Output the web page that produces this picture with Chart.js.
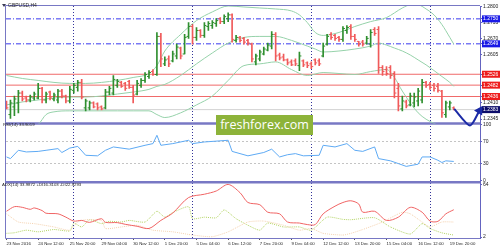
<!DOCTYPE html>
<html>
<head>
<meta charset="utf-8">
<script src="https://cdn.jsdelivr.net/npm/chart.js@4.4.1/dist/chart.umd.min.js"></script>
<style>
  html, body { margin: 0; padding: 0; background: #fff; }
  #box { position: relative; width: 500px; height: 250px; overflow: hidden; }
  #chart { position: absolute; left: 0; top: 0; }
  .txt { position: absolute; font-family: 'Liberation Sans', sans-serif; color: #1e1e1e; white-space: nowrap; line-height: 1; }
  #tri { position: absolute; left: 2px; top: 4px; width: 0; height: 0;
         border-left: 2px solid transparent; border-right: 2px solid transparent; border-top: 3px solid #3a3a55; }
  #sym { left: 8px; top: 3px; font-size: 5px; }
  #rsiTxt { left: 3px; top: 123px; font-size: 4.3px; }
  #adxTxt { left: 2px; top: 183px; font-size: 4.3px; }
  #wm { position: absolute; left: 216px; top: 115px; width: 97px; height: 20px; background: #8db33a;
        color: #fff; font-family: 'Open Sans', sans-serif; font-size: 12.5px; line-height: 20px; text-align: center; }
</style>
</head>
<body>
<div id="box">
  <canvas id="chart" width="500" height="250"></canvas>
  <div id="tri"></div>
  <div class="txt" id="sym">GBPUSD,H4</div>
  <div class="txt" id="rsiTxt">RSI(14) 33.9019</div>
  <div class="txt" id="adxTxt">ADX(14) 33.9872 +DI16.3103 -DI22.9293</div>
  <div id="wm">freshforex.com</div>
</div>
<script>
// H4 bars, 23 Nov 2016 .. 20 Dec 2016 (bar index 0..113)
const open = [1.2410,1.2363,1.2394,1.2410,1.2450,1.2430,1.2422,1.2430,1.2430,1.2469,
  1.2422,1.2454,1.2426,1.2422,1.2458,1.2438,1.2418,1.2461,1.2473,1.2493,
  1.2390,1.2390,1.2410,1.2406,1.2394,1.2390,1.2454,1.2450,1.2481,1.2493,
  1.2489,1.2497,1.2473,1.2446,1.2481,1.2501,1.2517,1.2537,1.2525,1.2679,
  1.2568,1.2588,1.2580,1.2600,1.2632,1.2608,1.2679,1.2719,1.2675,1.2703,
  1.2683,1.2719,1.2723,1.2731,1.2751,1.2739,1.2751,1.2766,1.2663,1.2675,
  1.2671,1.2663,1.2648,1.2576,1.2588,1.2608,1.2624,1.2640,1.2687,1.2604,
  1.2596,1.2584,1.2576,1.2580,1.2561,1.2580,1.2572,1.2568,1.2584,1.2580,
  1.2600,1.2648,1.2687,1.2683,1.2675,1.2667,1.2703,1.2719,1.2679,1.2659,
  1.2656,1.2652,1.2648,1.2707,1.2707,1.2553,1.2545,1.2553,1.2529,1.2469,
  1.2386,1.2414,1.2402,1.2410,1.2418,1.2422,1.2493,1.2485,1.2481,1.2477,
  1.2458,1.2363,1.2394,1.2390];
const high = [1.2418,1.2422,1.2438,1.2461,1.2458,1.2438,1.2442,1.2454,1.2489,1.2473,
  1.2454,1.2458,1.2450,1.2465,1.2465,1.2442,1.2477,1.2489,1.2501,1.2505,
  1.2426,1.2418,1.2414,1.2410,1.2398,1.2465,1.2477,1.2521,1.2505,1.2497,
  1.2493,1.2501,1.2481,1.2501,1.2509,1.2533,1.2541,1.2545,1.2695,1.2691,
  1.2596,1.2600,1.2620,1.2648,1.2636,1.2687,1.2735,1.2727,1.2715,1.2707,
  1.2735,1.2739,1.2743,1.2751,1.2755,1.2766,1.2774,1.2770,1.2683,1.2679,
  1.2675,1.2667,1.2652,1.2608,1.2624,1.2636,1.2652,1.2699,1.2695,1.2612,
  1.2608,1.2588,1.2584,1.2588,1.2616,1.2584,1.2576,1.2576,1.2588,1.2588,
  1.2652,1.2687,1.2695,1.2687,1.2679,1.2719,1.2723,1.2727,1.2687,1.2659,
  1.2663,1.2679,1.2707,1.2715,1.2719,1.2561,1.2557,1.2561,1.2537,1.2489,
  1.2438,1.2422,1.2450,1.2450,1.2469,1.2505,1.2497,1.2493,1.2489,1.2489,
  1.2461,1.2418,1.2418,1.2394];
const low = [1.2386,1.2347,1.2359,1.2370,1.2418,1.2414,1.2414,1.2422,1.2426,1.2410,
  1.2410,1.2422,1.2418,1.2410,1.2430,1.2410,1.2410,1.2450,1.2458,1.2426,
  1.2378,1.2382,1.2390,1.2382,1.2382,1.2386,1.2442,1.2442,1.2473,1.2473,
  1.2461,1.2469,1.2410,1.2442,1.2473,1.2493,1.2509,1.2521,1.2521,1.2557,
  1.2561,1.2557,1.2576,1.2588,1.2588,1.2608,1.2671,1.2648,1.2663,1.2675,
  1.2675,1.2703,1.2711,1.2719,1.2731,1.2731,1.2739,1.2656,1.2656,1.2656,
  1.2648,1.2644,1.2576,1.2564,1.2580,1.2604,1.2620,1.2628,1.2580,1.2584,
  1.2580,1.2564,1.2561,1.2561,1.2541,1.2557,1.2553,1.2549,1.2564,1.2561,
  1.2596,1.2644,1.2667,1.2663,1.2659,1.2659,1.2691,1.2667,1.2659,1.2640,
  1.2640,1.2648,1.2636,1.2683,1.2529,1.2521,1.2521,1.2509,1.2430,1.2378,
  1.2378,1.2390,1.2398,1.2394,1.2398,1.2410,1.2473,1.2465,1.2458,1.2454,
  1.2351,1.2351,1.2382,1.2382];
const close = [1.2390,1.2410,1.2426,1.2450,1.2426,1.2422,1.2434,1.2446,1.2469,1.2422,
  1.2446,1.2430,1.2442,1.2458,1.2438,1.2418,1.2465,1.2481,1.2493,1.2434,
  1.2418,1.2410,1.2394,1.2390,1.2386,1.2454,1.2469,1.2505,1.2497,1.2477,
  1.2469,1.2473,1.2442,1.2489,1.2501,1.2525,1.2533,1.2525,1.2679,1.2588,
  1.2584,1.2568,1.2608,1.2636,1.2600,1.2675,1.2719,1.2675,1.2703,1.2683,
  1.2723,1.2731,1.2735,1.2743,1.2739,1.2759,1.2766,1.2667,1.2675,1.2663,
  1.2656,1.2652,1.2588,1.2600,1.2616,1.2628,1.2644,1.2687,1.2600,1.2592,
  1.2584,1.2572,1.2564,1.2568,1.2600,1.2564,1.2561,1.2557,1.2572,1.2568,
  1.2640,1.2679,1.2675,1.2671,1.2667,1.2711,1.2715,1.2679,1.2667,1.2648,
  1.2648,1.2671,1.2695,1.2691,1.2553,1.2537,1.2529,1.2521,1.2450,1.2398,
  1.2418,1.2398,1.2438,1.2434,1.2458,1.2493,1.2481,1.2473,1.2469,1.2461,
  1.2370,1.2410,1.2410,1.2383];

// Bollinger bands, read at bar indices
const upperIdx = [0,4,8,12,16,20,24,28,32,36,38,40,44,48,52,56,60,64,68,72,74,76,78,80,84,88,92,96,98,100,102,104,106,108,110,112,113];
const bbUpper = [1.2521,1.2509,1.2501,1.2493,1.2489,1.2489,1.2493,1.2501,1.2513,1.2529,1.2561,1.2620,1.2687,1.2743,1.2778,1.2802,1.2798,1.2794,1.2790,1.2782,1.2766,1.2735,1.2695,1.2683,1.2695,1.2719,1.2739,1.2755,1.2774,1.2794,1.2806,1.2806,1.2790,1.2766,1.2727,1.2675,1.2648];
const midIdx = [0,4,8,12,16,20,24,28,32,36,38,40,44,48,52,56,60,64,68,72,74,76,78,80,84,88,92,94,96,98,100,102,104,106,108,110,112,113];
const bbMid = [1.2402,1.2414,1.2422,1.2430,1.2434,1.2434,1.2438,1.2446,1.2454,1.2465,1.2477,1.2485,1.2521,1.2568,1.2612,1.2652,1.2675,1.2679,1.2679,1.2663,1.2652,1.2640,1.2628,1.2616,1.2620,1.2628,1.2640,1.2652,1.2644,1.2632,1.2620,1.2604,1.2584,1.2564,1.2541,1.2517,1.2493,1.2477];
const lowerIdx = [0,4,8,10,12,16,20,24,28,32,36,38,40,44,48,52,56,60,64,68,72,76,80,84,88,92,96,98,100,104,108,112,113];
const bbLower = [1.2299,1.2307,1.2323,1.2363,1.2374,1.2378,1.2378,1.2378,1.2378,1.2378,1.2378,1.2363,1.2351,1.2370,1.2402,1.2438,1.2501,1.2561,1.2568,1.2576,1.2545,1.2521,1.2533,1.2529,1.2525,1.2537,1.2545,1.2513,1.2458,1.2370,1.2327,1.2307,1.2303];

// horizontal levels
const resLevels = [1.2750, 1.2649];
const supLevels = [1.2526, 1.2482, 1.2436];
const lastPrice = 1.2383;
const priceTicks = [1.2800, 1.2735, 1.2670, 1.2605, 1.2410, 1.2345];

// RSI(14)
const rsiIdx = [0,1,3,5,8,10,13,14,16,18,20,23,25,27,31,35,37,38,39,42,46,47,50,56,57,61,65,67,69,71,73,75,79,80,83,86,88,90,93,94,97,99,101,104,105,107,109,110,111,113];
const rsiVal = [42,39,54,51,52,54,57,50,58,61,45,44,54,60,56,63,66,81,63,66,72,66,69,72,52,44,50,56,42,46,48,44,45,63,60,66,54,52,60,39,35,30,25,29,42,42,36,32,35,33.9];
const rsiTicks = [100, 70, 30, 0];
const rsiLevels = [70, 30];

// ADX(14)
const adxIdx = [0,2,4,6,7,9,10,13,15,17,19,21,24,25,28,30,33,36,39,42,46,50,53,56,59,61,64,66,69,71,74,76,78,80,83,85,87,89,90,93,96,99,102,105,107,109,111,113];
const adxVal = [32.2,37.6,36.8,34.5,36.1,33.0,29.9,29.2,25.3,20.7,21.5,19.2,23.5,19.2,18.9,16.9,14.6,12.0,21.5,30.1,48.3,52.2,56.0,63.7,54.0,42.5,39.9,31.1,29.2,19.6,18.4,16.6,16.6,29.2,38.2,42.5,44.5,40.7,31.1,32.2,21.5,25.3,36.8,31.1,20.7,20.4,29.2,34.0];
const pdiIdx = [0,2,5,8,12,16,17,19,21,24,26,29,31,35,38,40,42,46,47,50,53,55,58,61,64,66,70,74,77,81,85,87,93,97,102,105,107,110,113];
const pdiVal = [6.3,7.0,10.0,8.1,10.8,9.2,18.4,13.8,22.3,17.7,20.4,19.6,21.5,19.6,32.2,25.3,30.7,37.6,23.5,25.3,24.6,33.8,23.5,15.8,10.0,18.4,13.8,13.8,10.0,25.3,22.7,22.3,24.6,13.8,5.5,17.7,12.0,6.9,4.3];
const mdiIdx = [0,3,7,12,16,18,20,24,25,29,33,37,42,47,52,56,61,65,70,74,77,80,85,87,90,95,100,102,105,107,110,113];
const mdiVal = [29.2,19.6,17.7,13.8,10.0,19.6,22.3,21.5,12.0,13.8,15.8,10.0,8.1,4.3,2.4,8.1,19.6,20.7,15.8,10.0,12.0,6.3,4.3,6.3,10.8,19.6,31.1,29.2,19.6,13.8,19.6,19.6];
const adxTicks = [64, 2];

// time axis
const xLabelIdx = [0,8,16,24,32,40,48,56,64,72,80,88,96,104,112];
const xLabels = ['23 Nov 2016','24 Nov 12:00','25 Nov 20:00','29 Nov 04:00','30 Nov 12:00','1 Dec 20:00','5 Dec 04:00',
  '6 Dec 12:00','7 Dec 20:00','9 Dec 04:00','12 Dec 12:00','13 Dec 20:00','15 Dec 04:00','16 Dec 12:00','19 Dec 20:00'];
const weekSepIdx = [17, 47, 77, 107];

// hand-drawn forecast arrow
const arrowIdx = [113.1, 117.1, 119.5];
const arrowPrice = [1.2386, 1.2319, 1.2379];

const xMin = -0.125, xMax = 119.625;
const upColor = '#2f8f2f', downColor = '#f05a5a';
const bbColor = '#96d2aa';
const frameColor = '#7878c4';
const axisColor = '#6464c0';
const tinyFont = { family: 'Liberation Sans', size: 5 };

const tagColors = {};
resLevels.forEach(v => tagColors[v.toFixed(4)] = '#1a1ae6');
supLevels.forEach(v => tagColors[v.toFixed(4)] = '#ee1c1c');
tagColors[lastPrice.toFixed(4)] = '#0c0c6a';
const tagOf = c => c.tick ? tagColors[c.tick.value.toFixed(4)] : undefined;

const pts = (idx, vals) => idx.map((x, k) => ({ x: x, y: vals[k] }));
const hline = v => [{ x: xMin, y: v }, { x: xMax, y: v }];
const barColors = close.map((c, i) => c >= open[i] ? upColor : downColor);

const datasets = [];
resLevels.forEach(v => datasets.push({ type: 'line', yAxisID: 'yMain', data: hline(v), borderColor: '#3838ee',
  borderWidth: 1, borderDash: [5, 2, 1, 2], pointRadius: 0, order: 10 }));
supLevels.forEach(v => datasets.push({ type: 'line', yAxisID: 'yMain', data: hline(v), borderColor: '#f06a6a',
  borderWidth: 1, pointRadius: 0, order: 10 }));
datasets.push({ type: 'line', yAxisID: 'yMain', data: hline(lastPrice), borderColor: '#d2d2d2', borderWidth: 1, pointRadius: 0, order: 11 });

[[upperIdx, bbUpper], [midIdx, bbMid], [lowerIdx, bbLower]].forEach(([idx, vals]) => datasets.push({
  type: 'line', yAxisID: 'yMain', data: pts(idx, vals), borderColor: bbColor, borderWidth: 1,
  pointRadius: 0, cubicInterpolationMode: 'monotone', order: 4 }));

datasets.push({ type: 'bar', yAxisID: 'yMain', data: close.map((c, i) => ({ x: i, y: [low[i], high[i]] })),
  backgroundColor: barColors, borderWidth: 0, barThickness: 1, grouped: false, order: 3 });
datasets.push({ type: 'line', yAxisID: 'yMain', showLine: false, data: open.map((v, i) => ({ x: i - 0.25, y: v })),
  pointStyle: 'line', pointRadius: 1, pointBorderWidth: 1, pointBorderColor: barColors, order: 3 });
datasets.push({ type: 'line', yAxisID: 'yMain', showLine: false, data: close.map((v, i) => ({ x: i + 0.25, y: v })),
  pointStyle: 'line', pointRadius: 1, pointBorderWidth: 1, pointBorderColor: barColors, order: 3 });

datasets.push({ type: 'line', yAxisID: 'yRsi', data: pts(rsiIdx, rsiVal), borderColor: '#5eaaf4', borderWidth: 1, pointRadius: 0, order: 2 });

datasets.push({ type: 'line', yAxisID: 'yAdx', data: pts(mdiIdx, mdiVal), borderColor: '#f4d2b0', borderWidth: 1, borderDash: [1, 1], pointRadius: 0, tension: 0.2, order: 2 });
datasets.push({ type: 'line', yAxisID: 'yAdx', data: pts(pdiIdx, pdiVal), borderColor: '#b4d466', borderWidth: 1, borderDash: [1, 1], pointRadius: 0, tension: 0.2, order: 2 });
datasets.push({ type: 'line', yAxisID: 'yAdx', data: pts(adxIdx, adxVal), borderColor: '#f06464', borderWidth: 1, pointRadius: 0, tension: 0.3, order: 1 });

datasets.push({ type: 'line', yAxisID: 'yMain', data: pts(arrowIdx, arrowPrice), borderColor: '#1b2aa6', borderWidth: 2,
  tension: 0.25, pointRadius: [0, 0, 3.5], pointStyle: 'triangle', pointRotation: 31,
  pointBackgroundColor: '#1b2aa6', pointBorderColor: '#1b2aa6', clip: false, order: 0 });

// window frames and separators between the three panes
const frames = {
  id: 'frames',
  beforeDatasetsDraw(chart) {
    const { ctx, chartArea: a, scales } = chart;
    ctx.save();
    ctx.strokeStyle = frameColor;
    ctx.lineWidth = 1;
    ctx.beginPath();
    ctx.moveTo(a.left - 0.5, a.bottom + 0.5);
    ctx.lineTo(a.left - 0.5, a.top - 0.5);
    ctx.lineTo(a.right, a.top - 0.5);
    ctx.moveTo(a.left - 0.5, a.bottom + 0.5);
    ctx.lineTo(a.right, a.bottom + 0.5);
    ctx.stroke();
    ctx.lineWidth = 2.5;
    [scales.yMain.bottom, scales.yRsi.bottom].forEach(y => {
      ctx.beginPath();
      ctx.moveTo(a.left - 1, y);
      ctx.lineTo(a.right, y);
      ctx.stroke();
    });
    ctx.restore();
  }
};

const fitY = s => { s.width = 20; s.paddingTop = 0; s.paddingBottom = 0; };

new Chart(document.getElementById('chart'), {
  type: 'line',
  data: { datasets: datasets },
  plugins: [frames],
  options: {
    responsive: false,
    animation: false,
    devicePixelRatio: 1,
    layout: { padding: { left: 1, top: 1, right: 0, bottom: 0 } },
    plugins: { legend: { display: false }, tooltip: { enabled: false } },
    scales: {
      x: {
        type: 'linear', min: xMin, max: xMax, offset: false,
        afterBuildTicks: s => { s.ticks = xLabelIdx.concat(weekSepIdx).map(v => ({ value: v })); },
        afterFit: s => { s.height = 12; s.paddingLeft = 0; s.paddingRight = 0; },
        ticks: {
          autoSkip: false, maxRotation: 0, minRotation: 0, align: 'start', padding: 1, color: '#222',
          font: { family: 'Liberation Sans', size: 4.3 },
          callback: v => { const k = xLabelIdx.indexOf(v); return k < 0 ? '' : xLabels[k]; }
        },
        grid: {
          offset: false, lineWidth: 1, tickLength: 2,
          color: c => (c.tick && weekSepIdx.includes(c.tick.value)) ? '#34349a' : 'rgba(0,0,0,0)',
          tickColor: c => (c.tick && xLabelIdx.includes(c.tick.value)) ? '#555' : 'rgba(0,0,0,0)'
        },
        border: { display: false, dash: [1, 2] }
      },
      yMain: {
        type: 'linear', position: 'right', stack: 'win', stackWeight: 120,
        min: 1.2327, max: 1.2802,
        afterBuildTicks: s => {
          s.ticks = priceTicks.concat(resLevels, supLevels, [lastPrice]).map(v => ({ value: v }));
        },
        afterFit: fitY,
        ticks: {
          autoSkip: false, padding: 1, font: tinyFont,
          callback: v => v.toFixed(4),
          color: c => tagOf(c) ? '#fff' : '#222',
          showLabelBackdrop: c => !!tagOf(c),
          backdropColor: c => tagOf(c) || 'rgba(0,0,0,0)',
          backdropPadding: { left: 1, right: 3, top: 0.5, bottom: 0.5 }
        },
        grid: { drawOnChartArea: false, tickLength: 2, color: axisColor },
        border: { color: axisColor, width: 1 }
      },
      yRsi: {
        type: 'linear', position: 'right', stack: 'win', stackWeight: 60,
        min: -3.5, max: 102.3,
        afterBuildTicks: s => { s.ticks = rsiTicks.map(v => ({ value: v })); },
        afterFit: fitY,
        ticks: { autoSkip: false, padding: 1, font: tinyFont, color: '#222', callback: v => String(v) },
        grid: {
          tickLength: 2, tickColor: axisColor,
          color: c => (c.tick && rsiLevels.includes(c.tick.value)) ? '#c4c4c4' : 'rgba(0,0,0,0)'
        },
        border: { color: axisColor, width: 1, dash: [2, 2] }
      },
      yAdx: {
        type: 'linear', position: 'right', stack: 'win', stackWeight: 57,
        min: 0.85, max: 66.3,
        afterBuildTicks: s => { s.ticks = adxTicks.map(v => ({ value: v })); },
        afterFit: fitY,
        ticks: { autoSkip: false, padding: 1, font: tinyFont, color: '#222', callback: v => String(v) },
        grid: { drawOnChartArea: false, tickLength: 2, color: axisColor },
        border: { color: axisColor, width: 1 }
      }
    }
  }
});
</script>
</body>
</html>
